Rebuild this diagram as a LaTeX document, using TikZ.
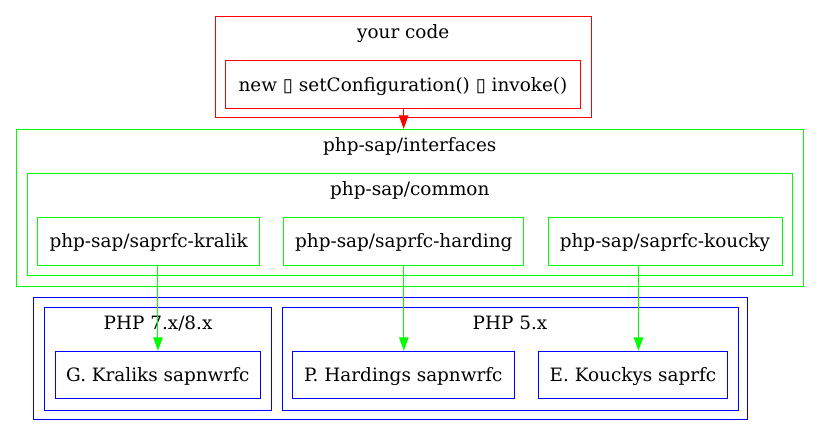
\documentclass[tikz,border=0pt]{standalone}
\usepackage{fontspec}
\setmainfont{DejaVu Serif}
\newfontfamily\boxfont{DejaVu Sans}
\usetikzlibrary{arrows.meta}
\begin{document}
\begin{tikzpicture}[x=0.75pt,y=-0.75pt,
  every node/.style={font=\fontsize{13.8}{16}\selectfont},
  cl/.style={draw=#1, line width=0.75pt, inner sep=0pt, anchor=center},
  nd/.style={draw=#1, line width=0.75pt, inner sep=0pt, anchor=center, text height=10pt, text depth=0pt},
  lbl/.style={anchor=base, inner sep=0pt},
  edge/.style={draw=#1, line width=0.75pt, -{Triangle[length=10pt,width=7pt,fill=#1]}}
]
\useasboundingbox (0,0) rectangle (819,436);

% your code
\node[cl=red, minimum width=281.8pt, minimum height=75.75pt] (yc) at (403.2,67.2) {};
\node[lbl] (yclbl) at ([yshift=-16.9pt]yc.north) {your code};
\node[nd=red, minimum width=266.55pt, minimum height=35.5pt] (code) at (403,84.35)
  {new {\boxfont ▯} setConfiguration() {\boxfont ▯} invoke()};

% interfaces
\node[cl=green, minimum width=590.6pt, minimum height=117.9pt] (iface) at (409.75,207.9) {};
\node[lbl] (ifacelbl) at ([yshift=-17.2pt]iface.north) {php-sap/interfaces};
\node[cl=green, minimum width=573.3pt, minimum height=76.2pt] (common) at (409.8,224.5) {};
\node[lbl] (commonlbl) at ([yshift=-16.6pt]common.north) {php-sap/common};
\node[nd=green, minimum width=166.4pt, minimum height=36pt] (kralik) at (148.65,241.3) {php-sap/saprfc-kralik};
\node[nd=green, minimum width=180pt, minimum height=36pt] (harding) at (403.8,241.3) {php-sap/saprfc-harding};
\node[nd=green, minimum width=175.5pt, minimum height=36pt] (koucky) at (665,241.3) {php-sap/saprfc-koucky};

% modules
\node[cl=blue, minimum width=535.5pt, minimum height=92pt] (mods) at (390.7,358.65) {};
\node[cl=blue, minimum width=170.6pt, minimum height=77.25pt] (php7) at (158.05,358.8) {};
\node[lbl] (php7lbl) at ([yshift=-16.9pt]php7.north) {PHP 7.x/8.x};
\node[cl=blue, minimum width=342pt, minimum height=77.25pt] (php5) at (510,358.8) {};
\node[lbl] (php5lbl) at ([yshift=-16.9pt]php5.north) {PHP 5.x};
\node[nd=blue, minimum width=153.75pt, minimum height=35.55pt] (gk) at (157.8,375) {G. Kraliks sapnwrfc};
\node[nd=blue, minimum width=166.2pt, minimum height=35.55pt] (ph) at (403.3,375) {P. Hardings sapnwrfc};
\node[nd=blue, minimum width=141.75pt, minimum height=35.55pt] (ek) at (633,375) {E. Kouckys saprfc};

% edges
\draw[edge=red] ([xshift=0.5pt]code.south) -- ([xshift=0.5pt]code.south |- iface.north);
\draw[edge=green] ([xshift=7pt]kralik.south) -- ([xshift=7pt]kralik.south |- gk.north);
\draw[edge=green] (harding.south) -- (harding.south |- ph.north);
\draw[edge=green] ([xshift=-19.9pt]koucky.south) -- ([xshift=-19.9pt]koucky.south |- ek.north);
\end{tikzpicture}
\end{document}
